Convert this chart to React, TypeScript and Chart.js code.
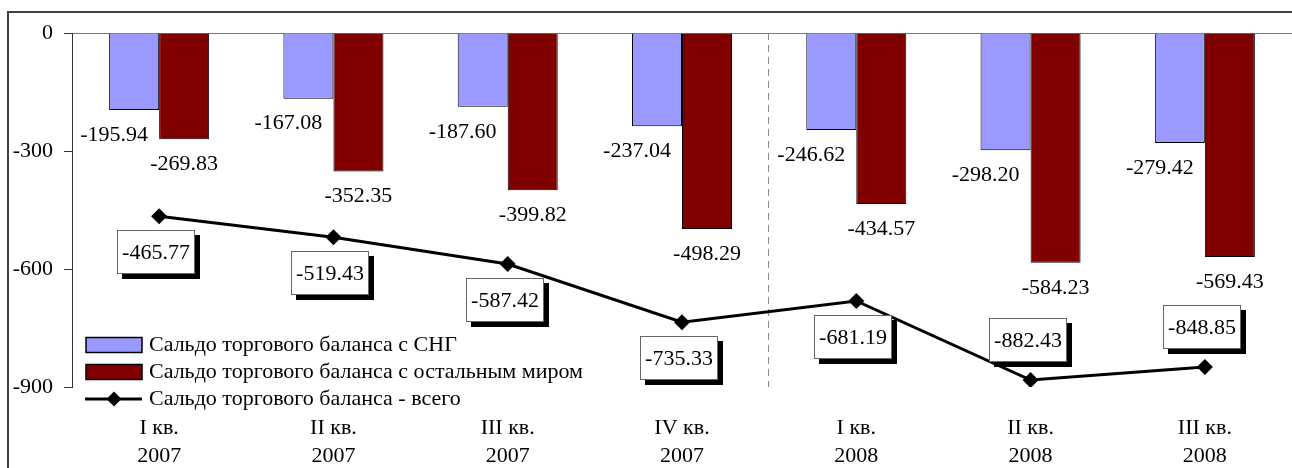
import React, { useEffect, useRef } from "react";
import { Chart, registerables } from "chart.js";

Chart.register(...registerables);

const FONT = "'Liberation Serif', 'Times New Roman', serif";

const categories = [
  ["I кв.", "2007"],
  ["II кв.", "2007"],
  ["III кв.", "2007"],
  ["IV кв.", "2007"],
  ["I кв.", "2008"],
  ["II кв.", "2008"],
  ["III кв.", "2008"],
];
const cisBalance = [-195.94, -167.08, -187.6, -237.04, -246.62, -298.2, -279.42];
const restBalance = [-269.83, -352.35, -399.82, -498.29, -434.57, -584.23, -569.43];
const totalBalance = [-465.77, -519.43, -587.42, -735.33, -681.19, -882.43, -848.85];
const seriesNames = [
  "Сальдо торгового баланса с СНГ",
  "Сальдо торгового баланса с остальным миром",
  "Сальдо торгового баланса - всего",
];
const yMin = -900;
const yMax = 0;
const yStep = 300;
const yearBoundary = 3.5;

const BLUE = "#9999ff";
const RED = "#800000";

const framePlugin = {
  id: "frame",
  beforeDraw(chart: any) {
    const ctx = chart.ctx;
    ctx.save();
    ctx.strokeStyle = "#404040";
    ctx.lineWidth = 2;
    ctx.beginPath();
    ctx.moveTo(8, chart.height + 2);
    ctx.lineTo(8, 12);
    ctx.lineTo(chart.width + 2, 12);
    ctx.stroke();
    ctx.restore();
  },
};

const separatorPlugin = {
  id: "separator",
  beforeDatasetsDraw(chart: any) {
    const ctx = chart.ctx;
    const x = Math.round(chart.scales.x.getPixelForValue(yearBoundary)) - 0.5;
    ctx.save();
    ctx.strokeStyle = "#8a8a8a";
    ctx.lineWidth = 1;
    ctx.setLineDash([7, 5]);
    ctx.beginPath();
    ctx.moveTo(x, chart.chartArea.top);
    ctx.lineTo(x, chart.chartArea.bottom);
    ctx.stroke();
    ctx.restore();
  },
};

const labelsPlugin = {
  id: "valueLabels",
  afterDatasetsDraw(chart: any) {
    const ctx = chart.ctx;
    ctx.save();
    ctx.font = `22px ${FONT}`;
    ctx.fillStyle = "#000";
    ctx.textAlign = "center";
    ctx.textBaseline = "middle";
    const m0 = chart.getDatasetMeta(0);
    m0.data.forEach((el: any, i: number) => {
      ctx.fillText(cisBalance[i].toFixed(2), el.x - 20, el.y + 25);
    });
    const m1 = chart.getDatasetMeta(1);
    m1.data.forEach((el: any, i: number) => {
      ctx.fillText(restBalance[i].toFixed(2), el.x, el.y + 25);
    });
    const m2 = chart.getDatasetMeta(2);
    m2.data.forEach((el: any, i: number) => {
      const v = totalBalance[i];
      const txt = v.toFixed(2);
      const w = Math.round(ctx.measureText(txt).width + 10);
      const h = 44;
      const cx = el.x - 3;
      const cy = v < -800 ? el.y - 40 : el.y + 36;
      const left = Math.round(cx - w / 2);
      const top = Math.round(cy - h / 2);
      ctx.fillStyle = "#000";
      ctx.fillRect(left + 5, top + 5, w, h);
      ctx.fillStyle = "#fff";
      ctx.fillRect(left, top, w, h);
      ctx.strokeStyle = "#666";
      ctx.lineWidth = 1;
      ctx.strokeRect(left + 0.5, top + 0.5, w - 1, h - 1);
      ctx.fillStyle = "#000";
      ctx.fillText(txt, left + w / 2, top + h / 2 + 1);
    });
    ctx.restore();
  },
};

const legendPlugin = {
  id: "innerLegend",
  afterDraw(chart: any) {
    const ctx = chart.ctx;
    const area = chart.chartArea;
    const x0 = area.left + 14;
    const sw = 56;
    const rows = [area.bottom - 42, area.bottom - 15, area.bottom + 12];
    ctx.save();
    ctx.font = `22px ${FONT}`;
    ctx.textAlign = "left";
    ctx.textBaseline = "middle";
    chart.data.datasets.forEach((ds: any, i: number) => {
      const y = rows[i];
      if (ds.type === "line") {
        ctx.strokeStyle = ds.borderColor;
        ctx.lineWidth = 3;
        ctx.beginPath();
        ctx.moveTo(x0 - 1, y);
        ctx.lineTo(x0 + sw, y);
        ctx.stroke();
        const cx = x0 + sw / 2;
        const r = 7.5;
        ctx.fillStyle = ds.pointBackgroundColor;
        ctx.beginPath();
        ctx.moveTo(cx, y - r);
        ctx.lineTo(cx + r, y);
        ctx.lineTo(cx, y + r);
        ctx.lineTo(cx - r, y);
        ctx.closePath();
        ctx.fill();
      } else {
        ctx.fillStyle = ds.backgroundColor;
        ctx.fillRect(x0, y - 7.5, sw, 15);
        ctx.strokeStyle = "#000";
        ctx.lineWidth = 1.5;
        ctx.strokeRect(x0, y - 7.5, sw, 15);
      }
      ctx.fillStyle = "#000";
      ctx.fillText(ds.label, x0 + sw + 7, y);
    });
    ctx.restore();
  },
};

export default function App() {
  const ref = useRef<HTMLCanvasElement | null>(null);
  useEffect(() => {
    if (!ref.current) return;
    const chart = new Chart(ref.current, {
      type: "bar",
      data: {
        labels: categories as any,
        datasets: [
          {
            type: "bar",
            label: seriesNames[0],
            data: cisBalance,
            backgroundColor: BLUE,
            borderColor: "#000",
            borderWidth: 1,
            order: 1,
          },
          {
            type: "bar",
            label: seriesNames[1],
            data: restBalance,
            backgroundColor: RED,
            borderColor: "#000",
            borderWidth: 1,
            order: 1,
          },
          {
            type: "line",
            label: seriesNames[2],
            data: totalBalance,
            borderColor: "#000",
            borderWidth: 3,
            pointStyle: "rectRot",
            pointRadius: 8,
            pointBackgroundColor: "#000",
            pointBorderColor: "#000",
            pointBorderWidth: 0,
            tension: 0,
            order: 0,
          } as any,
        ],
      },
      options: {
        responsive: false,
        animation: false,
        devicePixelRatio: 1,
        datasets: {
          bar: { categoryPercentage: 0.574, barPercentage: 1 },
        } as any,
        layout: { autoPadding: false, padding: { top: 33, left: 0, right: 0, bottom: 0 } },
        plugins: {
          legend: { display: false },
          tooltip: { enabled: false },
        },
        scales: {
          x: {
            type: "category",
            position: "bottom",
            grid: { display: false, drawTicks: false },
            border: { display: false },
            ticks: {
              color: "#000",
              font: { family: FONT, size: 22, lineHeight: 1.27 },
              padding: 27,
              maxRotation: 0,
              autoSkip: false,
            },
            afterFit: (s: any) => {
              s.height = 81;
              s.paddingLeft = 0;
              s.paddingRight = 0;
            },
          },
          y: {
            min: yMin,
            max: yMax,
            ticks: {
              stepSize: yStep,
              color: "#000",
              font: { family: FONT, size: 22 },
              padding: 11,
            },
            grid: {
              drawOnChartArea: true,
              color: (c: any) => (c.tick && c.tick.value === 0 ? "#777" : "rgba(0,0,0,0)"),
              tickColor: "#333",
              tickLength: 8,
              lineWidth: 1,
            },
            border: { display: true, color: "#333", width: 1 },
            afterFit: (s: any) => {
              s.width = 72;
              s.paddingTop = 0;
              s.paddingBottom = 0;
            },
          },
        },
      },
      plugins: [framePlugin, separatorPlugin, labelsPlugin, legendPlugin],
    });
    return () => chart.destroy();
  }, []);
  return (
    <canvas
      ref={ref}
      width={1292}
      height={468}
      style={{ position: "fixed", left: 0, top: 0, width: 1292, height: 468 }}
    />
  );
}
